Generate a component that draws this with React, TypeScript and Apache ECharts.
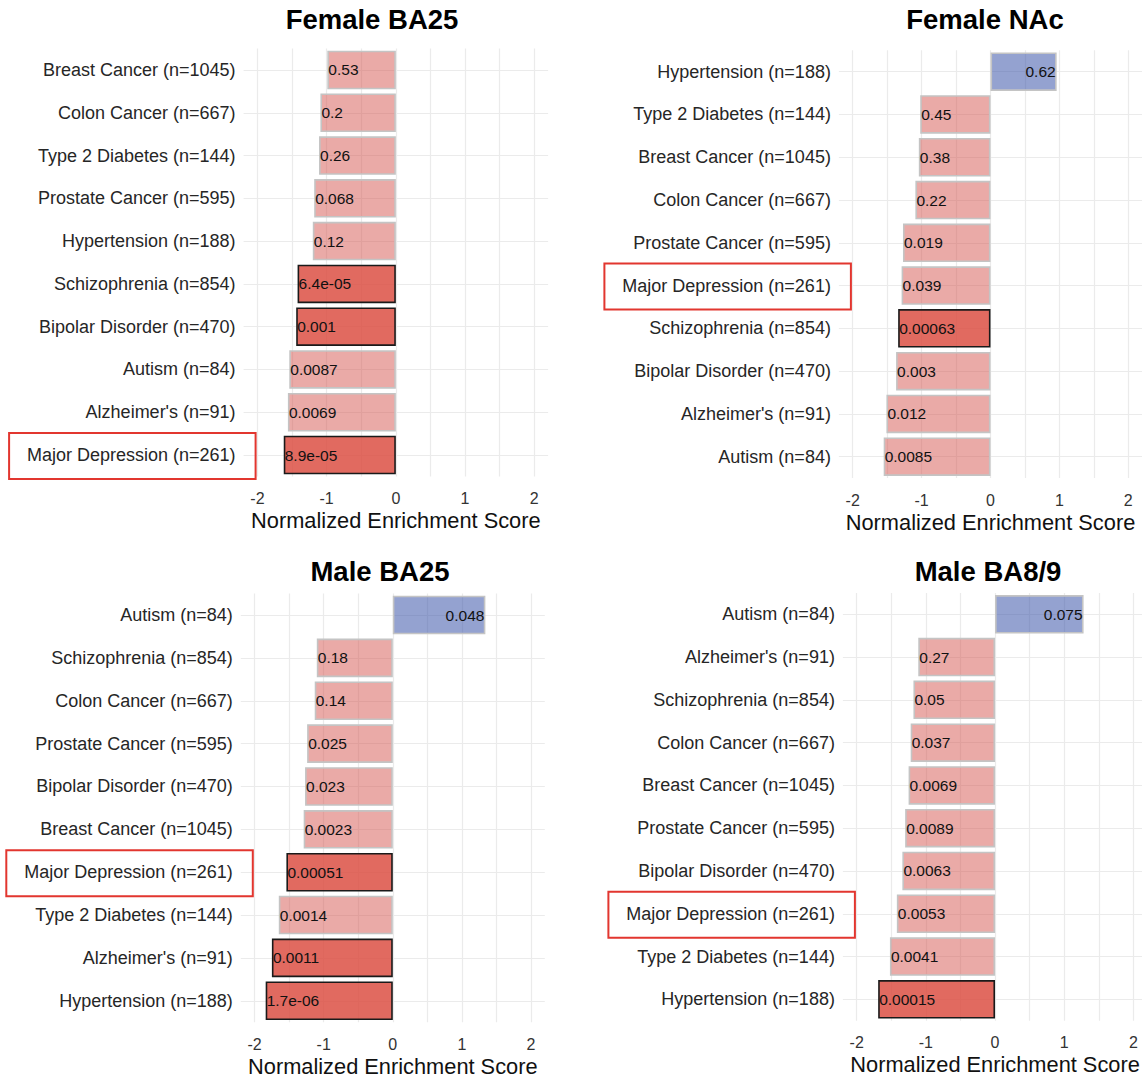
import React, { useEffect, useRef } from "react";
import * as echarts from "echarts";

const FONT = "'Liberation Sans', Arial, Helvetica, sans-serif";

// ---- Female BA25 ----
const femaleBA25Categories = [
  "Breast Cancer (n=1045)",
  "Colon Cancer (n=667)",
  "Type 2 Diabetes (n=144)",
  "Prostate Cancer (n=595)",
  "Hypertension (n=188)",
  "Schizophrenia (n=854)",
  "Bipolar Disorder (n=470)",
  "Autism (n=84)",
  "Alzheimer's (n=91)",
  "Major Depression (n=261)",
];
const femaleBA25NES = [-0.99, -1.09, -1.11, -1.18, -1.2, -1.42, -1.44, -1.54, -1.56, -1.62];
const femaleBA25P = ["0.53", "0.2", "0.26", "0.068", "0.12", "6.4e-05", "0.001", "0.0087", "0.0069", "8.9e-05"];
const femaleBA25Sig = [false, false, false, false, false, true, true, false, false, true];

// ---- Female NAc ----
const femaleNAcCategories = [
  "Hypertension (n=188)",
  "Type 2 Diabetes (n=144)",
  "Breast Cancer (n=1045)",
  "Colon Cancer (n=667)",
  "Prostate Cancer (n=595)",
  "Major Depression (n=261)",
  "Schizophrenia (n=854)",
  "Bipolar Disorder (n=470)",
  "Alzheimer's (n=91)",
  "Autism (n=84)",
];
const femaleNAcNES = [0.96, -1.02, -1.04, -1.09, -1.27, -1.29, -1.34, -1.37, -1.51, -1.55];
const femaleNAcP = ["0.62", "0.45", "0.38", "0.22", "0.019", "0.039", "0.00063", "0.003", "0.012", "0.0085"];
const femaleNAcSig = [false, false, false, false, false, false, true, false, false, false];

// ---- Male BA25 ----
const maleBA25Categories = [
  "Autism (n=84)",
  "Schizophrenia (n=854)",
  "Colon Cancer (n=667)",
  "Prostate Cancer (n=595)",
  "Bipolar Disorder (n=470)",
  "Breast Cancer (n=1045)",
  "Major Depression (n=261)",
  "Type 2 Diabetes (n=144)",
  "Alzheimer's (n=91)",
  "Hypertension (n=188)",
];
const maleBA25NES = [1.34, -1.1, -1.13, -1.24, -1.27, -1.29, -1.54, -1.65, -1.75, -1.84];
const maleBA25P = ["0.048", "0.18", "0.14", "0.025", "0.023", "0.0023", "0.00051", "0.0014", "0.0011", "1.7e-06"];
const maleBA25Sig = [false, false, false, false, false, false, true, false, true, true];

// ---- Male BA8/9 ----
const maleBA89Categories = [
  "Autism (n=84)",
  "Alzheimer's (n=91)",
  "Schizophrenia (n=854)",
  "Colon Cancer (n=667)",
  "Breast Cancer (n=1045)",
  "Prostate Cancer (n=595)",
  "Bipolar Disorder (n=470)",
  "Major Depression (n=261)",
  "Type 2 Diabetes (n=144)",
  "Hypertension (n=188)",
];
const maleBA89NES = [1.28, -1.11, -1.18, -1.22, -1.25, -1.3, -1.34, -1.42, -1.52, -1.69];
const maleBA89P = ["0.075", "0.27", "0.05", "0.037", "0.0069", "0.0089", "0.0063", "0.0053", "0.0041", "0.00015"];
const maleBA89Sig = [false, false, false, false, false, false, false, false, false, true];

const panelTitles = ["Female BA25", "Female NAc", "Male BA25", "Male BA8/9"];
const highlightCategory = "Major Depression (n=261)";
const xAxisName = "Normalized Enrichment Score";
const xMin = -2.2;
const xMax = 2.2;
// vertical grid positions (major at integers, minor at halves)
const xGridValues = [-2, -1.5, -1, -0.5, 0, 0.5, 1, 1.5, 2];

const panels = [
  { title: panelTitles[0], cats: femaleBA25Categories, nes: femaleBA25NES, p: femaleBA25P, sig: femaleBA25Sig },
  { title: panelTitles[1], cats: femaleNAcCategories, nes: femaleNAcNES, p: femaleNAcP, sig: femaleNAcSig },
  { title: panelTitles[2], cats: maleBA25Categories, nes: maleBA25NES, p: maleBA25P, sig: maleBA25Sig },
  { title: panelTitles[3], cats: maleBA89Categories, nes: maleBA89NES, p: maleBA89P, sig: maleBA89Sig },
];

// layout of the four plot panels
const gridBoxes = [
  { left: 243.6, top: 48.6, width: 304.5, height: 427.8 },
  { left: 838.9, top: 50.3, width: 303.2, height: 427.8 },
  { left: 240.8, top: 593.6, width: 304, height: 428.6 },
  { left: 842.9, top: 592.9, width: 304.3, height: 427.8 },
];
const titlePos = [
  { x: 372, y: 19 },
  { x: 985, y: 19 },
  { x: 380, y: 571 },
  { x: 988, y: 571 },
];

const RED_LIGHT = "rgba(214, 86, 80, 0.5)";
const RED_DARK = "rgba(220, 80, 68, 0.85)";
const BLUE = "rgba(60, 85, 170, 0.55)";
const GRID_COLOR = "#EBEBEB";

export default function App() {
  const ref = useRef<HTMLDivElement>(null);

  useEffect(() => {
    document.body.style.margin = "0";
    if (!ref.current) return;
    const chart = echarts.init(ref.current, undefined, { renderer: "svg" });

    const option: any = {
      animation: false,
      backgroundColor: "#ffffff",
      grid: gridBoxes.map((g) => ({ ...g, containLabel: false, outerBoundsMode: "none" })),
      xAxis: panels.map((_, i) => ({
        gridIndex: i,
        type: "value",
        min: xMin,
        max: xMax,
        axisLine: { show: false },
        axisTick: { show: false },
        splitLine: { show: false },
        axisLabel: {
          margin: 14,
          fontSize: 16,
          color: "#333",
          fontFamily: FONT,
          formatter: (v: number) => (Math.abs(v - Math.round(v)) < 1e-9 ? String(Math.round(v)) : ""),
        },
        name: xAxisName,
        nameLocation: "middle",
        nameGap: 33,
        nameMoveOverlap: false,
        nameTextStyle: { fontSize: 21.8, color: "#111", fontFamily: FONT },
      })),
      yAxis: panels.map((p, i) => ({
        gridIndex: i,
        type: "category",
        data: p.cats,
        inverse: true,
        axisLine: { show: false },
        axisTick: { show: false },
        splitLine: { show: false },
        axisLabel: { interval: 0, margin: 8, fontSize: 18, color: "#262626", fontFamily: FONT },
      })),
      series: panels.map((p, i) => ({
        type: "bar",
        xAxisIndex: i,
        yAxisIndex: i,
        barWidth: "90%",
        z: 2,
        data: p.nes.map((v, k) => ({
          value: v,
          itemStyle: {
            color: v >= 0 ? BLUE : p.sig[k] ? RED_DARK : RED_LIGHT,
            borderColor: p.sig[k] ? "#1a1a1a" : "#C4C4C4",
            borderWidth: 1.6,
          },
          label: { position: v >= 0 ? "insideRight" : "insideLeft" },
        })),
        label: {
          show: true,
          distance: 1,
          fontSize: 15.5,
          color: "#111",
          fontFamily: FONT,
          formatter: (prm: any) => p.p[prm.dataIndex],
        },
        markLine: {
          silent: true,
          z: 1,
          symbol: ["none", "none"],
          label: { show: false },
          lineStyle: { color: GRID_COLOR, width: 1.2, type: "solid" },
          data: [
            ...xGridValues.map((v) => ({ xAxis: v })),
            ...p.cats.map((c) => ({ yAxis: c })),
          ],
        },
      })),
    };

    chart.setOption(option);

    const graphics: any[] = [];
    panels.forEach((p, i) => {
      graphics.push({
        type: "text",
        x: titlePos[i].x,
        y: titlePos[i].y,
        style: {
          text: p.title,
          align: "center",
          verticalAlign: "middle",
          font: `bold 27.5px ${FONT}`,
          fill: "#000",
        },
      });
      const cy = chart.convertToPixel({ yAxisIndex: i } as any, highlightCategory) as unknown as number;
      const px = chart.convertToPixel({ xAxisIndex: i } as any, xMin) as unknown as number;
      graphics.push({
        type: "rect",
        shape: { x: px - 234.5, y: cy - 22, width: 246.5, height: 46 },
        style: { fill: "none", stroke: "#E2362F", lineWidth: 2 },
        z: 10,
      });
    });
    chart.setOption({ graphic: graphics });

    return () => chart.dispose();
  }, []);

  return <div ref={ref} style={{ width: 1142, height: 1078 }} />;
}
